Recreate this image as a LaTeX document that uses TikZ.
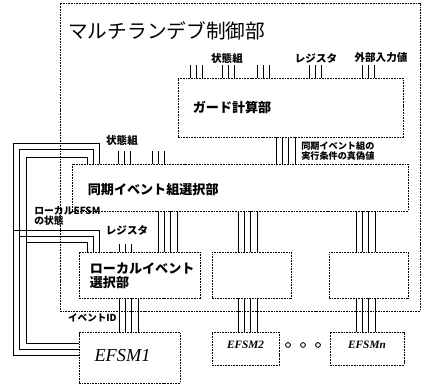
\documentclass[tikz,border=0pt]{standalone}
\usepackage{fontspec}
\setmainfont{Liberation Serif}
\newfontfamily\jpfont{Noto Sans CJK JP}
\usetikzlibrary{positioning,fit,calc}

\begin{document}
\begin{tikzpicture}[
  x=0.025cm, y=-0.025cm,
  box/.style={draw=black, line width=0.6pt, dash pattern=on 1.2pt off 0.7pt, inner sep=0pt},
  wire/.style={line width=0.7pt},
  lbl/.style={font=\jpfont\bfseries\fontsize{7.5}{8}\selectfont, inner sep=0pt},
  unit/.style={font=\jpfont\bfseries\fontsize{9.3}{10}\selectfont, inner sep=0pt, anchor=west, align=left},
  dot/.style={circle, draw=black, line width=0.6pt, inner sep=0pt, minimum size=0.12cm}
]
\useasboundingbox (0,0) rectangle (422,385);

% control part
\node[box, fit={(60,3) (420,311)}] (ctrl) {};
\node[font=\jpfont\fontsize{14}{16}\selectfont, anchor=west, inner sep=0pt] (title) at (68,31) {マルチランデブ制御部};

\node[box, fit={(178,78) (403,137)}] (guard) {};
\node[unit] (guardlbl) at ($(guard.north west)+(15,30)$) {ガード計算部};

\node[box, fit={(72,164) (408,211)}] (sync) {};
\node[unit] (synclbl) at ($(sync.north west)+(16,26)$) {同期イベント組選択部};

\node[box, fit={(79,252) (200,298)}] (local) {};
\node[unit] (locallbl) at ($(local.north west)+(11,24)$) {ローカルイベント\\選択部};
\node[box, fit={(212,252) (291,298)}] (sel2) {};
\node[box, fit={(329,252) (408,298)}] (seln) {};

% EFSMs
\node[box, fit={(79,332) (180,383)}] (efsm1) {};
\node[font=\itshape\fontsize{13}{14}\selectfont, inner sep=0pt] (efsm1lbl) at ($(efsm1.center)+(-7,-2)$) {EFSM1};
\node[box, fit={(212,332) (279,365)}, font=\bfseries\itshape\fontsize{8}{9}\selectfont] (efsm2) {EFSM2};
\node[box, fit={(330,332) (404,365)}, font=\bfseries\itshape\fontsize{8}{9}\selectfont] (efsmn) {EFSMn};
\foreach \i/\dx in {1/288,2/303,3/318}
  \node[dot] (d\i) at (\dx,345) {};

% labels
\node[lbl] (instate) at (227,58) {状態組};
\node[lbl] (inreg) at (316,58) {レジスタ};
\node[lbl] (inext) at (381,58) {外部入力値};
\node[lbl, anchor=west, align=left, font=\jpfont\bfseries\fontsize{6.5}{7.2}\selectfont] (truth) at (301,151) {同期イベント組の\\実行条件の真偽値};
\node[lbl] (syncstate) at (122,140) {状態組};
\node[lbl, anchor=west, align=left, font=\jpfont\bfseries\fontsize{7}{7.2}\selectfont] (efsmstate) at (34,216) {ローカルEFSM\\の状態};
\node[lbl] (locreg) at (127,230) {レジスタ};
\node[lbl, anchor=east, font=\jpfont\bfseries\fontsize{6.8}{7}\selectfont] (evid) at (117,318) {イベントID};

% input ticks
\foreach \bx in {190,222,257,309,362}
  \foreach \dx in {0,6,12}{
    \coordinate (tk) at (\bx+\dx,0);
    \draw[wire] (guard.north -| tk) -- ++(0,-13);
  }
\foreach \bx in {118,152}
  \foreach \dx in {0,6,12}{
    \coordinate (tk) at (\bx+\dx,0);
    \draw[wire] (sync.north -| tk) -- ++(0,-13);
  }
\foreach \dx in {0,6,12}{
  \coordinate (tk) at (119+\dx,0);
  \draw[wire] (local.north -| tk) -- ++(0,-8);
}

% buses between blocks
\foreach \from/\to/\bx in {guard/sync/276, sync/local/158, sync/sel2/238, sync/seln/356,
                          local/efsm1/119, sel2/efsm2/238, seln/efsmn/356}
  \foreach \dx in {0,6.3,12.6,19}{
    \coordinate (tk) at (\bx+\dx,0);
    \draw[wire] (\from.south -| tk) -- (\to.north -| tk);
  }

% local EFSM state fed back
\foreach \lx/\ly/\ty/\by/\rx in {13/355/143/230/99, 19/349/149/236/93, 26/343/157/242/87}{
  \coordinate (up) at (\rx,0);
  \draw[wire] (efsm1.west |- 0,\ly) -| (\lx,\ty) -| (sync.north -| up);
  \draw[wire] (\lx,\by) -| (local.north -| up);
}
\end{tikzpicture}
\end{document}
